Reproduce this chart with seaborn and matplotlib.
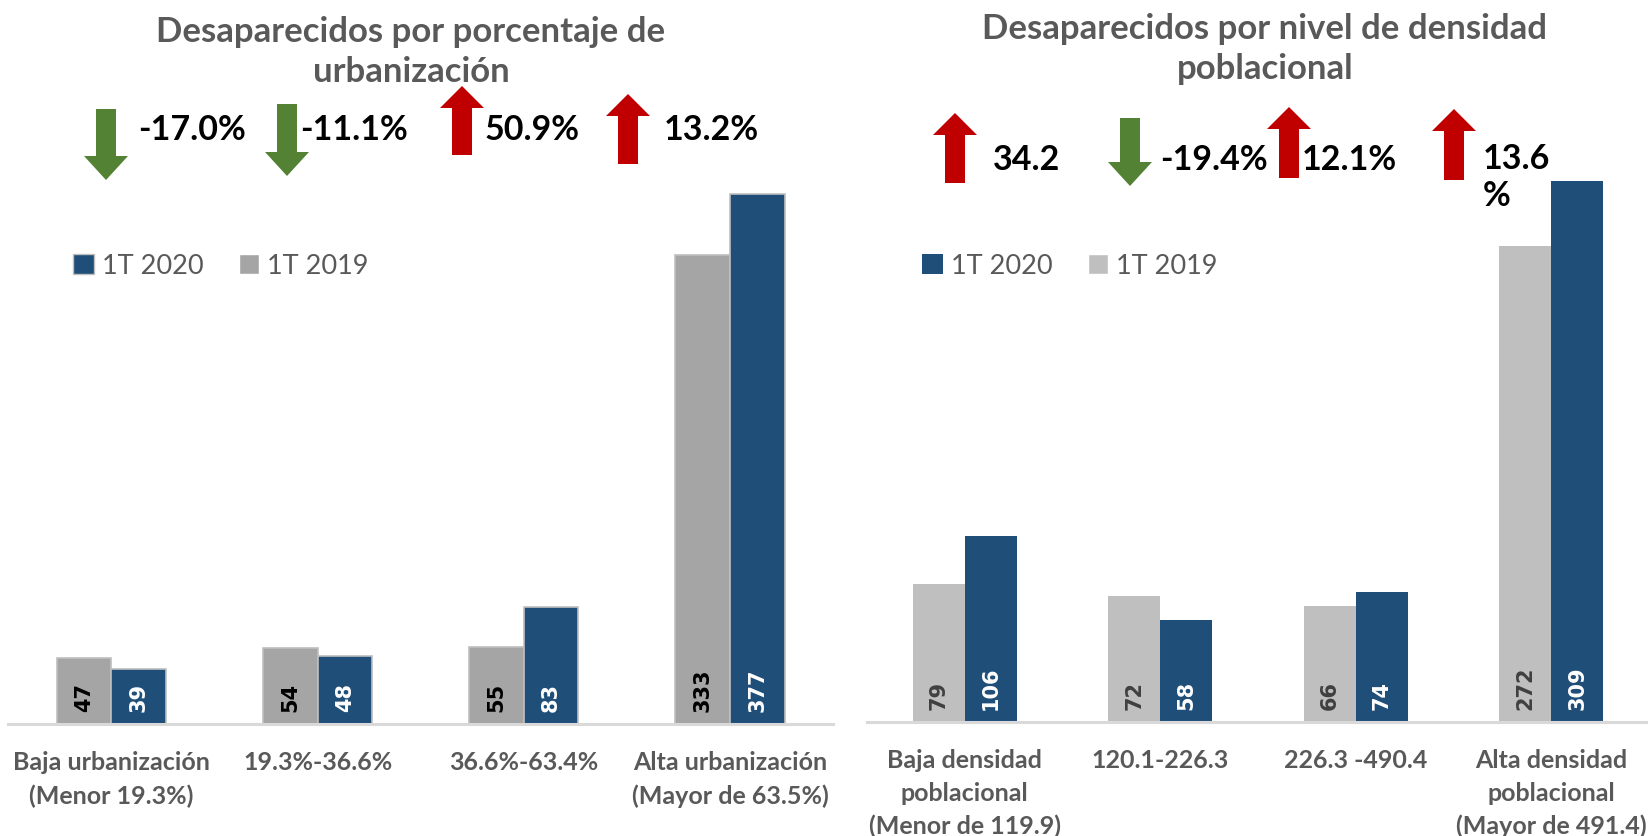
import pandas as pd
import matplotlib
matplotlib.use("Agg")
import matplotlib.pyplot as plt
import seaborn as sns
from matplotlib.patches import Polygon, Patch

# datos
cat_urb = ["Baja urbanización\n(Menor 19.3%)", "19.3%-36.6%", "36.6%-63.4%",
           "Alta urbanización\n(Mayor de 63.5%)"]
urb_2019 = [47, 54, 55, 333]
urb_2020 = [39, 48, 83, 377]
urb_cambio = ["-17.0%", "-11.1%", "50.9%", "13.2%"]

cat_den = ["Baja densidad\npoblacional\n(Menor de 119.9)", "120.1-226.3", "226.3 -490.4",
           "Alta densidad\npoblacional\n(Mayor de 491.4)"]
den_2019 = [79, 72, 66, 272]
den_2020 = [106, 58, 74, 309]
den_cambio = ["34.2", "-19.4%", "12.1%", "13.6\n%"]

AZUL = "#1F4E79"
GRIS_IZQ = "#A5A5A5"
GRIS_DER = "#BFBFBF"
VERDE = "#548235"
ROJO = "#C00000"
TXT = "#595959"

sns.set_style("white")
plt.rcParams['font.family'] = ['Lato', 'DejaVu Sans']

W, H = 1648, 837
fig = plt.figure(figsize=(W / 100, H / 100), dpi=100)


def panel(rect, cats, v19, v20, gris, ymax, col19_txt, edge):
    ax = fig.add_axes(rect)
    df = pd.DataFrame({
        "cat": cats * 2,
        "valor": v19 + v20,
        "serie": ["1T 2019"] * 4 + ["1T 2020"] * 4,
    })
    sns.barplot(data=df, x="cat", y="valor", hue="serie", order=cats,
                hue_order=["1T 2019", "1T 2020"],
                palette={"1T 2019": gris, "1T 2020": AZUL},
                width=0.53, gap=0, ax=ax, legend=False, saturation=1,
                edgecolor=edge, linewidth=1.2 if edge != "none" else 0)
    ax.set_xlim(-0.5, 3.5)
    ax.set_ylim(0, ymax)
    for s in ["top", "right", "left"]:
        ax.spines[s].set_visible(False)
    ax.spines["bottom"].set_color("#D9D9D9")
    ax.spines["bottom"].set_linewidth(2.2)
    ax.set_yticks([])
    ax.set_xlabel("")
    ax.set_ylabel("")
    ax.tick_params(axis="x", length=0, pad=19)
    ax.set_xticks(range(4))
    ax.set_xticklabels(cats, fontsize=18, fontweight="bold", color=TXT,
                       linespacing=1.5, va="top")
    for cont, col in zip(ax.containers, [col19_txt, "white"]):
        for bar in cont:
            ax.annotate(f"{bar.get_height():.0f}",
                        (bar.get_x() + bar.get_width() / 2, 0),
                        xytext=(0, 9), textcoords="offset points",
                        rotation=90, ha="center", va="bottom",
                        fontsize=15, fontweight="bold", color=col,
                        family="DejaVu Sans")
    ax.patch.set_alpha(0)
    return ax


# bbox en pixeles -> fraccion de figura
def rect(x0, x1, base, top):
    return [x0 / W, (H - base) / H, (x1 - x0) / W, (base - top) / H]


ax1 = panel(rect(8.4, 833, 725, 725 - 400 * 1.407), cat_urb, urb_2019, urb_2020,
            GRIS_IZQ, 400, "black", "#BFBFBF")
ax2 = panel(rect(867, 1649, 723, 723 - 330 * 1.751), cat_den, den_2019, den_2020,
            GRIS_DER, 330, "#404040", "none")

# titulos
fig.text(411 / W, 1 - 52 / H, "Desaparecidos por porcentaje de\nurbanización",
         ha="center", va="center", fontsize=25, fontweight="bold", color=TXT,
         linespacing=1.3)
fig.text(1265 / W, 1 - 49 / H, "Desaparecidos por nivel de densidad\npoblacional",
         ha="center", va="center", fontsize=25, fontweight="bold", color=TXT,
         linespacing=1.3)

# leyendas
for ax, gris, x in [(ax1, GRIS_IZQ, 49 / W), (ax2, GRIS_DER, 898 / W)]:
    handles = [Patch(facecolor=AZUL, edgecolor="#BFBFBF" if ax is ax1 else "none"),
               Patch(facecolor=gris)]
    fig.legend(handles, ["1T 2020", "1T 2019"], loc="center left",
               bbox_to_anchor=(x, 1 - 267 / H), ncol=2, frameon=False,
               prop={"size": 19.5}, labelcolor=TXT, handlelength=0.75,
               handleheight=0.8, handletextpad=0.3, columnspacing=1.3)

# flechas de variacion (capa superior en pixeles)
over = fig.add_axes([0, 0, 1, 1])
over.set_xlim(0, W)
over.set_ylim(H, 0)
over.axis("off")


def flecha(x, y0, y1, sube):
    # y0 = cola, y1 = punta
    sw, hw = 10, 22
    hl = 24 if not sube else 22
    d = -1 if sube else 1
    yb = y1 - d * hl
    pts = [(x - sw, y0), (x + sw, y0), (x + sw, yb), (x + hw, yb), (x, y1),
           (x - hw, yb), (x - sw, yb)]
    over.add_patch(Polygon(pts, closed=True, color=ROJO if sube else VERDE,
                           ec="none"))


flechas_urb = [(106, 110, 181), (287, 105, 177), (462, 156, 87), (628, 165, 95)]
texto_urb_x = [138, 300, 485, 664]
flechas_den = [(955, 184, 114), (1130, 119, 187), (1289, 179, 108), (1454, 181, 110)]
texto_den_x = [993, 1160, 1302, 1483]

for (x, a, b), tx, lab in zip(flechas_urb, texto_urb_x, urb_cambio):
    flecha(x, a, b, b < a)
    over.text(tx, 130, lab, ha="left", va="center", fontsize=24.5,
              fontweight="bold", color="black")
for (x, a, b), tx, lab in zip(flechas_den, texto_den_x, den_cambio):
    flecha(x, a, b, b < a)
    over.text(tx, 160 if "\n" not in lab else 143, lab, ha="left",
              va="top" if "\n" in lab else "center",
              fontsize=24.5, fontweight="bold", color="black",
              linespacing=1.2)

fig.savefig("out.png", dpi=100)
